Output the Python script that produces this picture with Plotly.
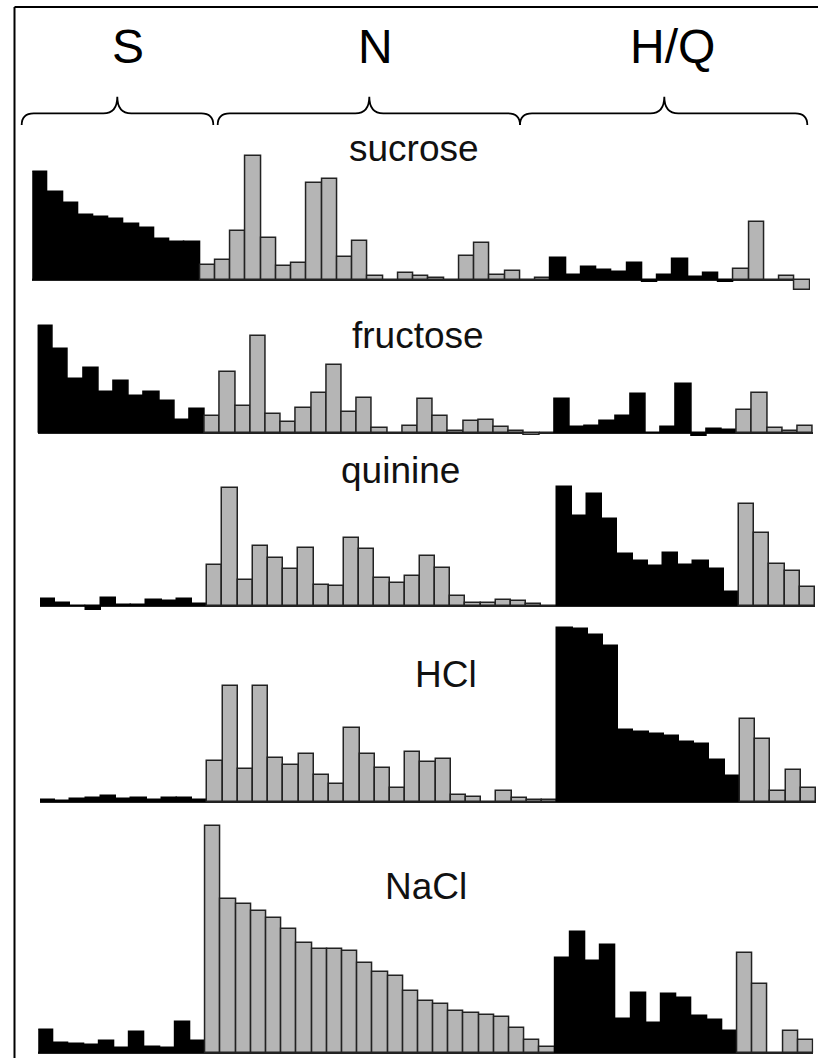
import plotly.graph_objects as go

W, H = 818, 1058

# ---------------- data (response magnitudes) ----------------
stimuli = ["sucrose", "fructose", "quinine", "HCl", "NaCl"]
group_labels = ["S", "N", "H/Q"]
group_sizes = [11, 23, 12, 5]          # S, N, H (black), Q (gray) neurons
group_is_black = [True, False, True, False]

sucrose = [108, 88, 77, 65, 63, 61, 56, 52, 41, 38, 38,
           15, 20, 49, 124, 42, 14, 17, 97, 101, 23, 39, 4, 0, 7, 4, 2, -1, 24, 37, 5, 9, 0, 2,
           22, 5, 13, 10, 8, 17, -2, 5, 21, 3, 7, -2,
           11, 58, 0, 4, -10]
fructose = [107, 84, 54, 65, 41, 52, 37, 41, 32, 13, 24,
            17, 61, 27, 97, 19, 11, 25, 40, 68, 21, 35, 5, 0, 7, 34, 17, 2, 12, 13, 6, 2, -2, 0,
            34, 6, 7, 12, 17, 39, 0, 6, 49, -3, 4, 3,
            23, 40, 5, 2, 7]
quinine = [7, 3, 0, -4, 8, 0.5, 0.5, 6, 5, 7, 2,
           41, 118, 26, 60, 48, 37, 58, 21, 20, 68, 57, 28, 23, 30, 50, 38, 10, 3, 3, 6, 5, 2, 0,
           119, 90, 112, 87, 52, 45, 40, 53, 41, 45, 37, 14,
           102, 73, 42, 35, 19]
hcl = [2, 0.5, 3, 4, 6, 3, 4, 2, 4, 4, 2,
       41, 116, 33, 116, 44, 37, 48, 27, 18, 74, 48, 34, 14, 50, 40, 43, 7, 5, 0, 11, 4, 2, 2,
       174, 173, 167, 156, 72, 70, 68, 66, 60, 58, 42, 26,
       83, 63, 11, 32, 14]
nacl = [23, 10, 9, 8, 12, 5, 21, 6, 5, 31, 12,
        227, 154, 149, 142, 135, 124, 110, 104, 104, 102, 90, 81, 77, 62, 52, 49, 42, 40, 38, 36, 25, 13, 6,
        95, 121, 92, 108, 34, 60, 30, 59, 55, 37, 33, 22,
        100, 69, 0, 22, 13]
series = [sucrose, fructose, quinine, hcl, nacl]

# ---------------- layout geometry (pixels) ----------------
# x0, x1: horizontal extent of bars; top/base/bottom: vertical positions
panels = [
    dict(x0=32.3, x1=810.0, top=150, base=280.0, bottom=292),
    dict(x0=37.7, x1=813.0, top=318, base=433.3, bottom=441),
    dict(x0=40.0, x1=815.0, top=480, base=605.7, bottom=612),
    dict(x0=40.0, x1=816.0, top=620, base=801.7, bottom=808),
    dict(x0=38.3, x1=813.3, top=818, base=1053.3, bottom=1058),
]
label_pos = [(413.5, 161.7), (417.5, 348.0), (400.0, 483.0), (446.0, 687.7), (425.5, 899.0)]
LABEL_FS = 37
GROUP_FS = 48


def px(x):
    return x / W


def py(y):
    return 1 - y / H


BLACK = "#000000"
GRAY = "#b5b5b5"
EDGE = "#222222"

fills, edges = [], []
for n, blk in zip(group_sizes, group_is_black):
    fills += [BLACK if blk else GRAY] * n
    edges += [BLACK if blk else EDGE] * n

n_bars = sum(group_sizes)
xs = list(range(n_bars))

fig = go.Figure()
for i, (name, vals, p) in enumerate(zip(stimuli, series, panels)):
    ax = "" if i == 0 else str(i + 1)
    fig.add_trace(go.Bar(
        x=xs, y=vals, name=name,
        marker=dict(color=fills, line=dict(color=edges, width=1.5)),
        xaxis="x" + ax, yaxis="y" + ax, showlegend=False, hoverinfo="skip",
    ))
    fig.layout["xaxis" + ax] = dict(
        domain=[px(p["x0"]), px(p["x1"])], range=[-0.5, n_bars - 0.5],
        anchor="y" + ax, showgrid=False, showticklabels=False, zeroline=False,
        showline=False, ticks="", fixedrange=True,
    )
    fig.layout["yaxis" + ax] = dict(
        domain=[py(p["bottom"]), py(p["top"])],
        range=[-(p["bottom"] - p["base"]), p["base"] - p["top"]],
        anchor="x" + ax, showgrid=False, showticklabels=False,
        zeroline=True, zerolinecolor="#222222", zerolinewidth=1.5,
        showline=False, ticks="", fixedrange=True,
    )

annotations = []
for name, (lx, lb) in zip(stimuli, label_pos):
    annotations.append(dict(
        text=name, x=px(lx), y=py(lb - 0.3465 * LABEL_FS), xref="paper", yref="paper",
        xanchor="center", yanchor="middle", showarrow=False,
        font=dict(family="Liberation Sans, Arial", size=LABEL_FS, color="#111111"),
    ))
for g, gx in zip(group_labels, [127.5, 375.0, 672.5]):
    annotations.append(dict(
        text=g, x=px(gx), y=py(63 - 0.3465 * GROUP_FS), xref="paper", yref="paper",
        xanchor="center", yanchor="middle", showarrow=False,
        font=dict(family="Liberation Sans, Arial", size=GROUP_FS, color="#000000"),
    ))


def brace(x0, xp, x1, ye=125.0, yh=113.3, yt=96.7):
    return (f"M {px(x0)},{py(ye)} Q {px(x0)},{py(yh)} {px(x0 + 12)},{py(yh)} "
            f"L {px(xp - 14)},{py(yh)} Q {px(xp)},{py(yh)} {px(xp)},{py(yt)} "
            f"Q {px(xp)},{py(yh)} {px(xp + 14)},{py(yh)} "
            f"L {px(x1 - 12)},{py(yh)} Q {px(x1)},{py(yh)} {px(x1)},{py(ye)}")


shapes = []
for (b0, bp, b1) in [(21.7, 117.3, 213.3), (217.7, 369.3, 520.0), (520.0, 664.3, 807.3)]:
    shapes.append(dict(type="path", path=brace(b0, bp, b1), xref="paper", yref="paper",
                       line=dict(color="#000000", width=1.8)))
# frame (left and top edges)
shapes.append(dict(type="line", xref="paper", yref="paper", x0=px(14.5), x1=px(14.5),
                   y0=py(7), y1=py(H), line=dict(color="#000000", width=2)))
shapes.append(dict(type="line", xref="paper", yref="paper", x0=px(14.5), x1=px(W),
                   y0=py(7), y1=py(7), line=dict(color="#000000", width=2)))

fig.update_layout(
    width=W, height=H, margin=dict(l=0, r=0, t=0, b=0),
    paper_bgcolor="white", plot_bgcolor="white",
    bargap=0, barmode="overlay",
    annotations=annotations, shapes=shapes,
)

fig.write_html("out.html", config={"displayModeBar": False},
               post_script="document.body.style.margin='0';document.body.style.overflow='hidden';")
